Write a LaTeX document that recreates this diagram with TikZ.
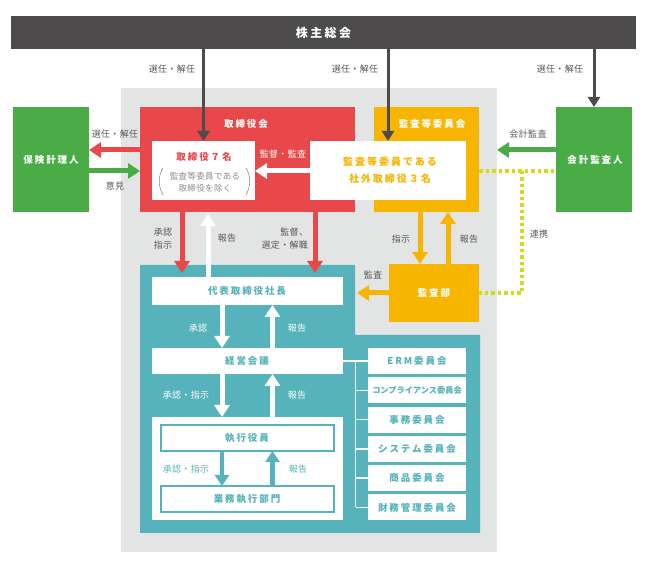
\documentclass[tikz,border=0pt]{standalone}
\usepackage{fontspec}
\setmainfont{Noto Sans CJK JP}
\newfontfamily\bxfont{Noto Sans CJK JP}[LetterSpace=20]
\newfontfamily\lblfont{Noto Sans CJK JP}[LetterSpace=4]
\usetikzlibrary{arrows.meta,fit,calc}
\definecolor{agmc}{HTML}{4D4B4C}
\definecolor{bgc}{HTML}{E3E4E4}
\definecolor{redc}{HTML}{E84849}
\definecolor{yelc}{HTML}{F7B500}
\definecolor{grnc}{HTML}{4AAC46}
\definecolor{tealc}{HTML}{56B2BB}
\definecolor{lblgray}{HTML}{595757}
\definecolor{dotc}{HTML}{D2DC14}
\definecolor{pgray}{HTML}{8C8C8C}
\begin{document}
\begin{tikzpicture}[x=1pt,y=-1pt,
 blk/.style={inner sep=0pt,outer sep=0pt},
 lbl/.style={inner sep=0pt,outer sep=0pt,align=center,text=lblgray,font=\lblfont\fontsize{9}{13}\selectfont},
 wlbl/.style={lbl,text=white},
 tlbl/.style={lbl,text=tealc},
 ttl/.style={inner sep=0pt,outer sep=0pt,text=white,font=\bxfont\bfseries\fontsize{9.5}{11}\selectfont},
 ctxt/.style={inner sep=0pt,outer sep=0pt,text=tealc,font=\bxfont\bfseries\fontsize{9.5}{11}\selectfont},
 cbox/.style={blk,fill=white},
 obox/.style={blk,fill=white,draw=tealc,line width=1.5pt},
 darr/.style={draw=agmc,line width=3pt,-{Triangle[width=12pt,length=10pt]}},
 rarr/.style={draw=redc,line width=5pt,-{Triangle[width=15pt,length=12pt]}},
 garr/.style={draw=grnc,line width=5pt,-{Triangle[width=15pt,length=12pt]}},
 warr/.style={draw=white,line width=5pt,-{Triangle[width=15pt,length=12pt]}},
 yarr/.style={draw=yelc,line width=5pt,-{Triangle[width=15pt,length=12pt]}},
 tarr/.style={draw=tealc,line width=4.5pt,-{Triangle[width=14pt,length=11pt]}},
 wline/.style={draw=white,line width=1.5pt},
 dotl/.style={draw=dotc,line width=3.5pt,dash pattern=on 3.5pt off 3pt},
 paren/.style={draw=pgray,line width=0.6pt}
]
\useasboundingbox (0,0) rectangle (649,569);
% background and big areas
\node[blk,fill=bgc,fit={(121,88) (497,552)}] (bg) {};
\fill[tealc] (140,265) -- (355,265) -- (355,335) -- (480,335) -- (480,533) -- (140,533) -- cycle;

% top bar
\node[blk,fill=agmc,fit={(11,16) (636,49)}] (agm) {};
\node[ttl,font=\bxfont\bfseries\fontsize{12}{14}\selectfont] (agmt) at (agm.center) {株主総会};

% side boxes
\node[blk,fill=grnc,fit={(13,107) (89,212)}] (actuary) {};
\node[ttl] (actuaryt) at (51,160) {保険計理人};
\node[blk,fill=grnc,fit={(556,107) (632,212)}] (auditor) {};
\node[ttl] (auditort) at (595,160) {会計監査人};

% board
\node[blk,fill=redc,fit={(140,107) (355,212)}] (board) {};
\node[ttl] (boardt) at (246,124) {取締役会};
\node[blk,fill=white,fit={(152,141) (255,200)}] (d7) {};
\node[ttl,text=redc] (d7t) at (204,157) {取締役７名};
\node[inner sep=0pt,align=center,text=pgray,font=\lblfont\fontsize{8.5}{12}\selectfont] (d7s) at (205,182) {監査等委員である\\取締役を除く};
\draw[paren] (163,168) .. controls (158,176) and (158,186) .. (163,195);
\draw[paren] (246,168) .. controls (251,176) and (251,186) .. (246,195);

% audit committee
\node[blk,fill=yelc,fit={(374,107) (479,212)}] (acc) {};
\node[ttl] (acct) at (432,124) {監査等委員会};
\node[blk,fill=white,fit={(310,141) (466,200)}] (ac3) {};
\node[inner sep=0pt,align=center,text=yelc,font=\bxfont\bfseries\fontsize{10}{17}\selectfont] (ac3t) at (390,170.5) {監査等委員である\\社外取締役３名};

% audit dept
\node[blk,fill=yelc,fit={(389,264) (479,322)}] (kansabu) {};
\node[ttl] (kansabut) at (434,293) {監査部};

% executive side
\node[cbox,fit={(152,277) (343,305)}] (ceo) {};
\node[ctxt] (ceot) at (247,291) {代表取締役社長};
\node[cbox,fit={(152,348) (343,374)}] (kei) {};
\node[ctxt] (keit) at (247,361) {経営会議};
\node[blk,fill=white,fit={(152,417) (343,520)}] (exec) {};
\node[obox,fit={(161,425) (334,451)}] (yakuin) {};
\node[ctxt] (yakuint) at (247,438) {執行役員};
\node[obox,fit={(161,486) (334,512)}] (gyomu) {};
\node[ctxt] (gyomut) at (247,499) {業務執行部門};

% committees
\node[cbox,fit={(368,348) (466,374)}] (erm) {};
\node[ctxt] (ermt) at (erm.center) {ERM委員会};
\node[cbox,fit={(368,377.3) (466,403.3)}] (comp) {};
\node[ctxt,font=\bfseries\fontsize{8.2}{10}\selectfont] (compt) at (comp.center) {コンプライアンス委員会};
\node[cbox,fit={(368,406.6) (466,432.6)}] (jimu) {};
\node[ctxt] (jimut) at (jimu.center) {事務委員会};
\node[cbox,fit={(368,435.9) (466,461.9)}] (sys) {};
\node[ctxt] (syst) at (sys.center) {システム委員会};
\node[cbox,fit={(368,465.2) (466,491.2)}] (shohin) {};
\node[ctxt] (shohint) at (shohin.center) {商品委員会};
\node[cbox,fit={(368,494.5) (466,520.5)}] (zaimu) {};
\node[ctxt] (zaimut) at (zaimu.center) {財務管理委員会};

% helper coordinates
\coordinate (yA) at (0,150);
\coordinate (yB) at (0,171);
\coordinate (r1end) at (182,273);
\coordinate (r2end) at (315,273);
\coordinate (w1end) at (208,214);
\coordinate (ya) at (420,0);
\coordinate (yb) at (448,0);
\coordinate (yl) at (357,293);
\coordinate (wx1) at (222,0);
\coordinate (wx2) at (272.5,0);
\coordinate (dv) at (522,171);
\coordinate (trunk) at (355.5,361);

% arrows from AGM
\draw[darr] (agm.south -| d7.north) -- (d7.north);
\draw[darr] (agm.south -| ac3.north) -- (ac3.north);
\draw[darr] (agm.south -| auditor.north) -- (auditor.north);

% side arrows
\draw[rarr] (board.west |- yA) -- (actuary.east |- yA);
\draw[garr] (actuary.east |- yB) -- (board.west |- yB);
\draw[warr] (ac3.west |- yB) -- (d7.east |- yB);
\draw[garr] (auditor.west |- yA) -- (bg.east |- yA);

% dotted cooperation line
\draw[dotl] (acc.east |- dv) -- (auditor.west |- dv);
\draw[dotl] (dv) -- (dv |- kansabu.east) -- (kansabu.east);

% board to executive
\draw[rarr] (board.south -| r1end) -- (r1end);
\draw[rarr] (board.south -| r2end) -- (r2end);
\draw[warr] (ceo.north -| w1end) -- (w1end);

% audit committee and audit dept
\draw[yarr] (acc.south -| ya) -- (kansabu.north -| ya);
\draw[yarr] (kansabu.north -| yb) -- (acc.south -| yb);
\draw[yarr] (kansabu.west) -- (yl);

% executive internal arrows
\draw[warr] (ceo.south -| wx1) -- (kei.north -| wx1);
\draw[warr] (kei.north -| wx2) -- (ceo.south -| wx2);
\draw[warr] (kei.south -| wx1) -- (exec.north -| wx1);
\draw[warr] (exec.north -| wx2) -- (kei.south -| wx2);
\draw[tarr] (yakuin.south -| wx1) -- (gyomu.north -| wx1);
\draw[tarr] (gyomu.north -| wx2) -- (yakuin.south -| wx2);

% committee tree
\draw[wline] (kei.east) -- (erm.west);
\draw[wline] (trunk) -- (trunk |- zaimu.west);
\foreach \c in {comp,jimu,sys,shohin,zaimu} \draw[wline] (trunk |- \c.west) -- (\c.west);

% labels
\node[lbl] (l1) at (172,69) {選任・解任};
\node[lbl] (l2) at (355,69) {選任・解任};
\node[lbl] (l3) at (560,69) {選任・解任};
\node[lbl] (l4) at (115,134) {選任・解任};
\node[lbl] (l5) at (115,186) {意見};
\node[wlbl] (l6) at (283,154) {監督・監査};
\node[lbl] (l7) at (528,134) {会計監査};
\node[lbl] (l8) at (539,234) {連携};
\node[lbl] (l9) at (163,238.5) {承認\\指示};
\node[lbl] (l10) at (227,238) {報告};
\node[lbl,align=right,anchor=east] (l11) at (308,238.5) {監督、\\選定・解職};
\node[lbl] (l12) at (401,239) {指示};
\node[lbl] (l13) at (469,239) {報告};
\node[lbl] (l14) at (373,275) {監査};
\node[wlbl] (l15) at (198,328) {承認};
\node[wlbl] (l16) at (297,328) {報告};
\node[wlbl] (l17) at (186,395) {承認・指示};
\node[wlbl] (l18) at (297,395) {報告};
\node[tlbl] (l19) at (186,469) {承認・指示};
\node[tlbl] (l20) at (298,469) {報告};
\end{tikzpicture}
\end{document}
